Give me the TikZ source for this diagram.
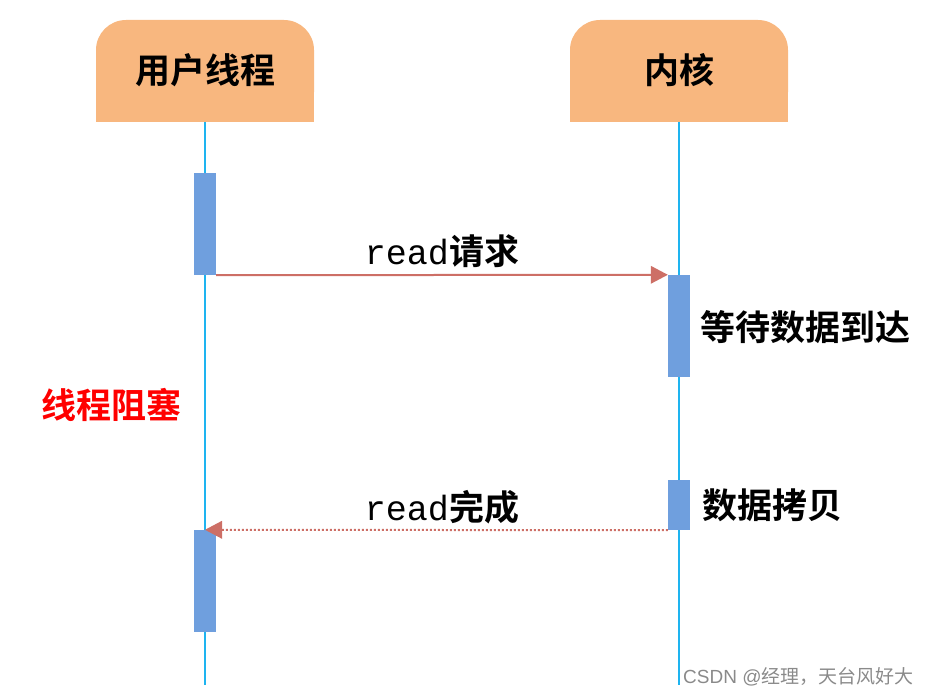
\documentclass[tikz,border=0pt]{standalone}
\usepackage{fontspec}
\setmainfont{Liberation Sans}
\newfontfamily\cjkb{Noto Sans CJK SC Bold}
\newfontfamily\cjkr{Noto Sans CJK SC}
\newfontfamily\mono{Liberation Mono}
\definecolor{hdr}{HTML}{F8B77F}
\definecolor{life}{HTML}{1EB4F0}
\definecolor{act}{HTML}{6F9FDE}
\definecolor{arr}{HTML}{CD6F66}
\definecolor{wm}{HTML}{8A8A8A}
\begin{document}
\begin{tikzpicture}[x=1pt,y=-1pt,
  hdrbox/.style={fill=hdr,draw=none},
  lifeline/.style={draw=life,line width=1.6pt},
  actbar/.style={fill=act,draw=none},
  msg/.style={draw=arr,line width=2pt},
  cjklbl/.style={inner sep=0pt,font=\cjkb\fontsize{35}{35}\selectfont},
]
\useasboundingbox (0,0) rectangle (930,695);
% headers
\fill[hdrbox,rounded corners=30pt] (96,122) -- (96,20) -- (314,20) -- (314,122) [sharp corners] -- cycle;
\fill[hdrbox] (96,60) rectangle (314,122);
\fill[hdrbox,rounded corners=30pt] (570,122) -- (570,20) -- (788,20) -- (788,122) [sharp corners] -- cycle;
\fill[hdrbox] (570,60) rectangle (788,122);
\node[cjklbl] (u) at (205,70) {用户线程};
\node[cjklbl] (k) at (679,70) {内核};
% lifelines
\coordinate (ut) at (205,122);
\coordinate (ub) at (205,685);
\coordinate (kt) at (679,122);
\coordinate (kb) at (679,685);
\draw[lifeline] (ut) -- (ub);
\draw[lifeline] (kt) -- (kb);
% activation bars
\node[actbar,minimum width=22pt,minimum height=102pt,inner sep=0pt] (a1) at (205,224) {};
\node[actbar,minimum width=22pt,minimum height=102pt,inner sep=0pt] (a2) at (679,326) {};
\node[actbar,minimum width=22pt,minimum height=50pt,inner sep=0pt] (a3) at (679,505) {};
\node[actbar,minimum width=22pt,minimum height=102pt,inner sep=0pt] (a4) at (205,581) {};
% arrows
\draw[msg] (a1.south east) -- ([xshift=-15pt]a2.north west);
\fill[arr] (a2.north west) -- ++(-17,-9) -- ++(0,18) -- cycle;
\draw[arr,line width=2pt,dash pattern=on 2pt off 2pt] (a3.south west) -- ([xshift=15pt]a4.north);
\fill[arr] (a4.north) -- ++(17,-9) -- ++(0,18) -- cycle;
% labels
\node[inner sep=0pt,anchor=base] (l1) at (442,265) {\mono\fontsize{35}{35}\selectfont read\cjkb\fontsize{35}{35}\selectfont 请求};
\node[inner sep=0pt,anchor=base] (l2) at (442,520) {\mono\fontsize{35}{35}\selectfont read\cjkb\fontsize{35}{35}\selectfont 完成};
\node[cjklbl,anchor=west] (w) at (700,327) {等待数据到达};
\node[cjklbl,anchor=west] (c) at (702,505) {数据拷贝};
\node[cjklbl,anchor=west,text=red] (b) at (41,405) {线程阻塞};
\node[inner sep=0pt,anchor=west,text=wm,font=\fontsize{19}{19}\selectfont] (wmk) at (683,677) {CSDN @{\cjkr 经理，天台风好大}};
\end{tikzpicture}
\end{document}
